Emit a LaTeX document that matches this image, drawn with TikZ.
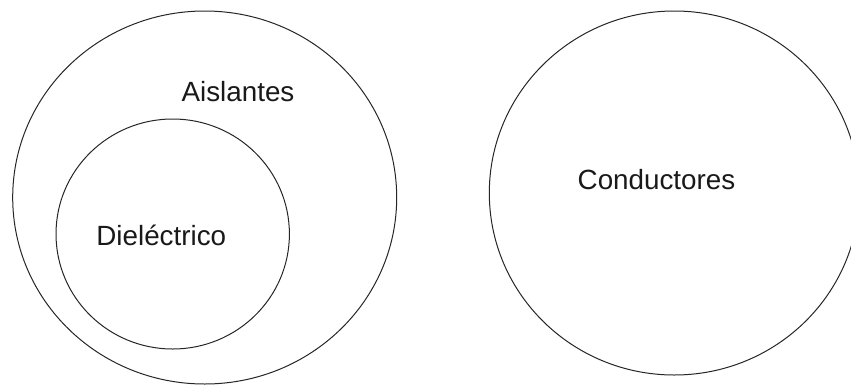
\documentclass[tikz,border=0pt]{standalone}
\usepackage{fontspec}
\setmainfont{Liberation Sans}
\usetikzlibrary{shapes.geometric}
\begin{document}
\begin{tikzpicture}[x=1pt,y=-1pt,
  ring/.style={draw=black!85,line width=1pt},
  lbl/.style={font=\fontsize{27.8}{30}\selectfont,text=black!90,anchor=base,inner sep=0pt}]
\useasboundingbox (0,0) rectangle (851,386);
\clip (0,0) rectangle (851,386);
\draw[ring] (204.7,197.5) ellipse [x radius=192, y radius=186.5];
\draw[ring] (172.7,234) ellipse [x radius=116.7, y radius=115];
\draw[ring] (674.3,193) ellipse [x radius=185, y radius=182];
\node[lbl] (ais) at (238,101) {Aislantes};
\node[lbl] (die) at (161.3,245) {Dieléctrico};
\node[lbl] (con) at (656.5,189.5) {Conductores};
\end{tikzpicture}
\end{document}
